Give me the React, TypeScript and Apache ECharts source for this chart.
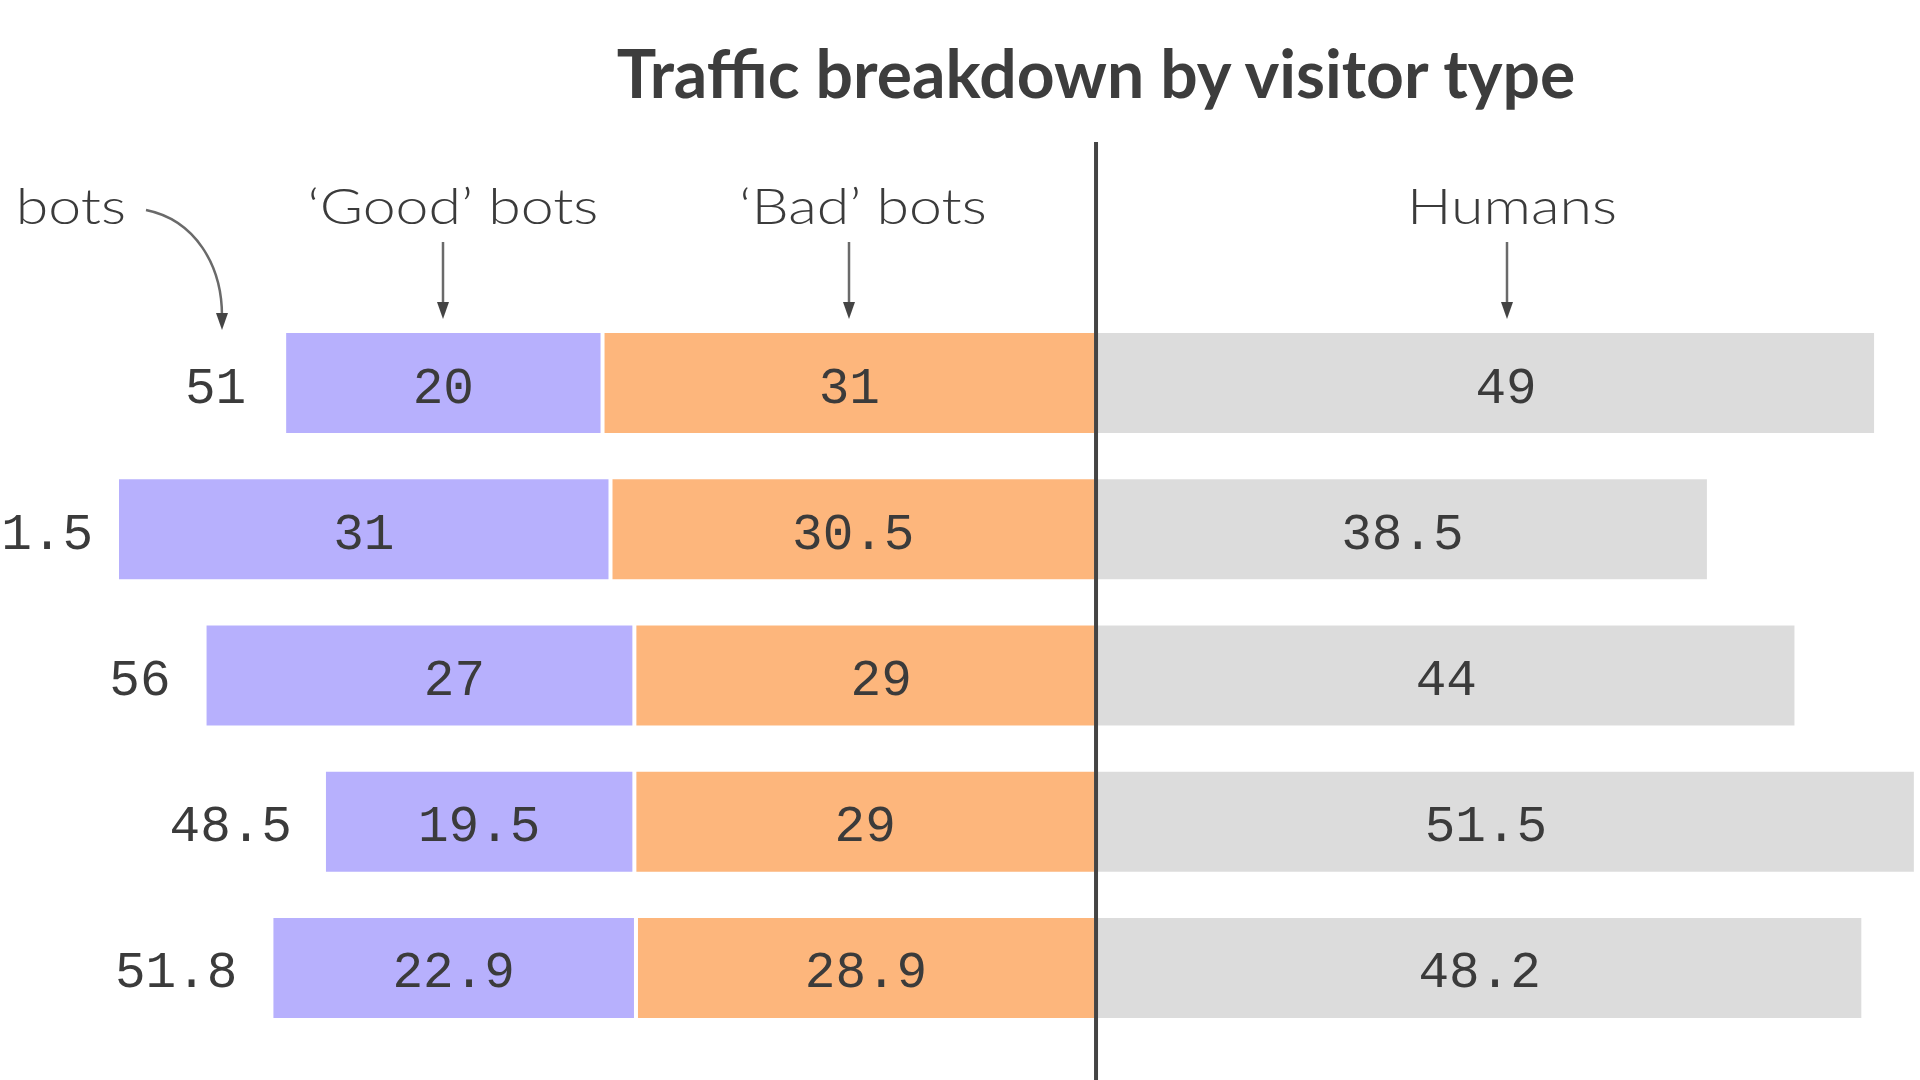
import React, { useEffect, useRef } from "react";
import * as echarts from "echarts";

const years = ["2012", "2013", "2014", "2015", "2016"];
const goodBots = [20, 31, 27, 19.5, 22.9];
const badBots = [31, 30.5, 29, 29, 28.9];
const humans = [49, 38.5, 44, 51.5, 48.2];
const totalBots = [51, 61.5, 56, 48.5, 51.8];

const headers = ["Total bots", "\u2018Good\u2019 bots", "\u2018Bad\u2019 bots", "Humans"];
const title = "Traffic breakdown by visitor type";

// small horizontal label nudges (px) as placed in the original
const nudgeGood = [0, 0, 35, 0, 0];
const nudgeBad = [0, 0, 16, 0, 0];
const nudgeHumans = [20, 0, 0, -20, 0];
const nudgeTotal = [-4, 10, 0, 2, 0];

const PURPLE = "#b7b0fd";
const ORANGE = "#fdb67c";
const GRAY = "#dcdcdc";
const TEXT = "#3b3b3b";
const ARROW = "#6a6a6a";
const MONO = "'Liberation Mono', 'DejaVu Sans Mono', monospace";
const SANS = "Lato, 'Open Sans', sans-serif";

export default function App() {
  const ref = useRef<HTMLDivElement>(null);
  useEffect(() => {
    if (!ref.current) return;
    const chart = echarts.init(ref.current, undefined, { renderer: "svg" });
    const labelStyle = {
      show: true,
      fontFamily: MONO,
      fontSize: 51,
      color: TEXT,
      formatter: (p: any) => String(Math.abs(p.value)),
    };
    const withNudge = (vals: number[], nudge: number[]) =>
      vals.map((v, i) => ({ value: v, label: { offset: [nudge[i], 6] } }));
    const barBase = {
      type: "bar" as const,
      barWidth: 104,
      barGap: "-100%",
      emphasis: { disabled: true },
    };
    const border = { borderColor: "#ffffff", borderWidth: 2 };
    chart.setOption({
      animation: false,
      grid: { left: 0, right: 0, top: 310, bottom: 39, containLabel: false },
      xAxis: { type: "value", min: -68.85, max: 51.76, show: false },
      yAxis: { type: "category", data: years, inverse: true, show: false },
      series: [
        {
          ...barBase,
          name: "Bad bots",
          stack: "bots",
          data: withNudge(badBots.map((v) => -v), nudgeBad),
          itemStyle: { ...border, color: ORANGE },
          label: { ...labelStyle, position: "inside" },
        },
        {
          ...barBase,
          name: "Good bots",
          stack: "bots",
          data: withNudge(goodBots.map((v) => -v), nudgeGood),
          itemStyle: { ...border, color: PURPLE },
          label: { ...labelStyle, position: "inside" },
        },
        {
          ...barBase,
          name: "Humans",
          stack: "humans",
          data: withNudge(humans, nudgeHumans),
          itemStyle: { ...border, color: GRAY },
          label: { ...labelStyle, position: "inside" },
        },
        {
          ...barBase,
          name: "Total bots",
          stack: "total",
          data: withNudge(totalBots.map((v) => -v), nudgeTotal),
          itemStyle: { color: "rgba(0,0,0,0)", borderWidth: 0 },
          label: { ...labelStyle, position: "left", distance: 34 },
          z: 1,
        },
      ],
    });

    const cx = chart.convertToPixel({ xAxisIndex: 0 }, 0) as number;
    const headerY = 205;
    const headerStyle = { fontFamily: SANS, fontSize: 50, fontWeight: 300, fill: TEXT, verticalAlign: "middle" };
    const arrow = (x: number) => [
      { type: "line", shape: { x1: x, y1: 242, x2: x, y2: 306 }, style: { stroke: ARROW, lineWidth: 2.5 } },
      { type: "polygon", shape: { points: [[x - 6, 302], [x + 6, 302], [x, 319]] }, style: { fill: "#444" } },
    ];
    const header = (text: string, x: number, align: string) => ({
      type: "text",
      x,
      y: headerY,
      scaleX: 1.18,
      style: { ...headerStyle, text, align },
    });
    chart.setOption({
      graphic: [
        { type: "text", x: cx, y: 72, style: { text: title, fontFamily: SANS, fontSize: 66, fontWeight: 700, fill: "#3d3d3d", align: "center", verticalAlign: "middle" } },
        { type: "line", shape: { x1: cx, y1: 142, x2: cx, y2: 1080 }, style: { stroke: "#444444", lineWidth: 4 }, z: 100 },
        header(headers[0], 126, "right"),
        header(headers[1], 453, "center"),
        header(headers[2], 863, "center"),
        header(headers[3], 1512, "center"),
        ...arrow(443),
        ...arrow(849),
        ...arrow(1507),
        { type: "bezierCurve", shape: { x1: 146, y1: 210, cpx1: 195, cpy1: 220, cpx2: 222, cpy2: 265, x2: 222, y2: 316 }, style: { stroke: ARROW, lineWidth: 2.5, fill: null } },
        { type: "polygon", shape: { points: [[216, 313], [228, 313], [222, 330]] }, style: { fill: "#444" } },
      ],
    });
    return () => chart.dispose();
  }, []);
  return <div ref={ref} style={{ position: "fixed", left: 0, top: 0, width: "100vw", height: "100vh", background: "#fff" }} />;
}
